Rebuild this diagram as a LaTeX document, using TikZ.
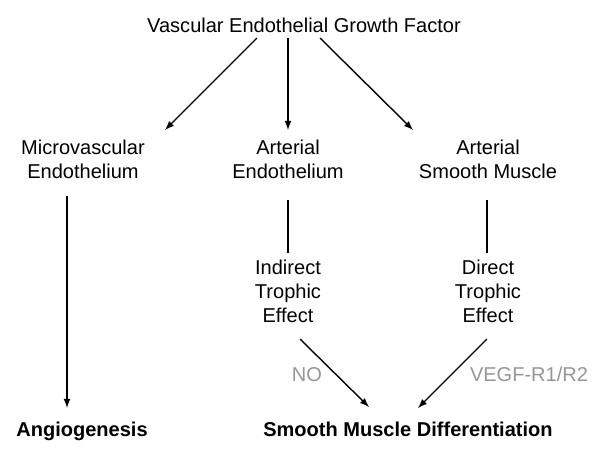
\documentclass[tikz,border=0pt]{standalone}
\usepackage{fontspec}
\setmainfont{Liberation Sans}
\usepackage{tikz}
\usetikzlibrary{positioning}
\usetikzlibrary{arrows}
\definecolor{labelgray}{RGB}{150,150,150}

\begin{document}
\begin{tikzpicture}[x=0.02cm, y=-0.02cm, >=latex, line width=0.8pt,
txt/.style={align=center, anchor=base, inner sep=0pt, font=\fontsize{11.4}{13.4}\selectfont},
res/.style={txt, font=\fontsize{11.4}{13.4}\selectfont\bfseries},
lbl/.style={txt, text=labelgray}]
\useasboundingbox (0,0) rectangle (600,450);

% growth factor
\node [txt] (vegf) at (304,32) {Vascular Endothelial Growth Factor};

% targets (base = last line)
\node [txt] (mv) at (83,178) {Microvascular\\Endothelium};
\node [txt] (ae) at (288,178) {Arterial\\Endothelium};
\node [txt] (asm) at (488,178) {Arterial\\Smooth Muscle};

% effects
\node [txt] (ind) at (288,322) {Indirect\\Trophic\\Effect};
\node [txt] (dir) at (488,322) {Direct\\Trophic\\Effect};

% outcomes
\node [res] (ang) at (82,436) {Angiogenesis};
\node [res] (smd) at (408,436) {Smooth Muscle Differentiation};

% mediators
\node [lbl] (no) at (307,381) {NO};
\node [lbl] (vr) at (529,381) {VEGF-R1/R2};

% arrow ends
\coordinate (v1) at (257,38);
\coordinate (v2) at (288,38);
\coordinate (v3) at (320,38);
\coordinate (mvin) at (165,130);
\coordinate (aein) at (288,130);
\coordinate (asmin) at (413,130);
\coordinate (mvout) at (67,196);
\coordinate (angin) at (67,408);
\coordinate (aeout) at (288,200);
\coordinate (indin) at (288,253);
\coordinate (asmout) at (487,200);
\coordinate (dirin) at (487,253);
\coordinate (indout) at (300,339);
\coordinate (dirout) at (487,339);
\coordinate (smd1) at (369,407);
\coordinate (smd2) at (418,408);

% from the growth factor
\draw [->] (v1) -- (mvin);
\draw [->] (v2) -- (aein);
\draw [->] (v3) -- (asmin);

% down
\draw [->] (mvout) -- (angin);
\draw (aeout) -- (indin);
\draw (asmout) -- (dirin);

% into differentiation
\draw [->] (indout) -- (smd1);
\draw [->] (dirout) -- (smd2);
\end{tikzpicture}
\end{document}
